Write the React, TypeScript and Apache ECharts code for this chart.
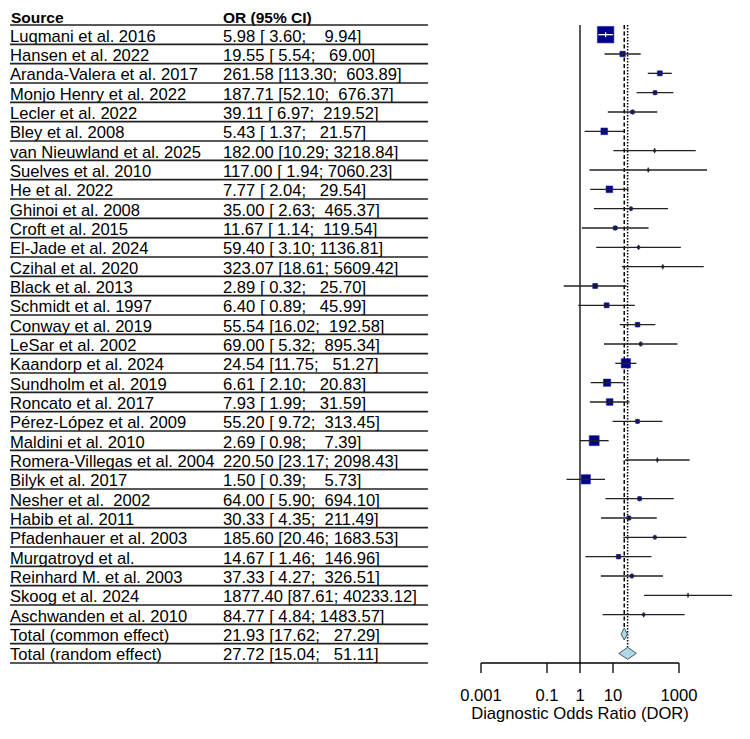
import React, { useEffect, useRef } from 'react';
import * as echarts from 'echarts';

const studies = [
  'Luqmani et al. 2016', 'Hansen et al. 2022', 'Aranda-Valera et al. 2017', 'Monjo Henry et al. 2022',
  'Lecler et al. 2022', 'Bley et al. 2008', 'van Nieuwland et al. 2025', 'Suelves et al. 2010',
  'He et al. 2022', 'Ghinoi et al. 2008', 'Croft et al. 2015', 'El-Jade et al. 2024',
  'Czihal et al. 2020', 'Black et al. 2013', 'Schmidt et al. 1997', 'Conway et al. 2019',
  'LeSar et al. 2002', 'Kaandorp et al. 2024', 'Sundholm et al. 2019', 'Roncato et al. 2017',
  'Pérez-López et al. 2009', 'Maldini et al. 2010', 'Romera-Villegas et al. 2004', 'Bilyk et al. 2017',
  'Nesher et al.  2002', 'Habib et al. 2011', 'Pfadenhauer et al. 2003', 'Murgatroyd et al.',
  'Reinhard M. et al. 2003', 'Skoog et al. 2024', 'Aschwanden et al. 2010',
];
const est = [
  5.98, 19.55, 261.58, 187.71, 39.11, 5.43, 182.0, 117.0, 7.77, 35.0, 11.67, 59.4, 323.07, 2.89, 6.4,
  55.54, 69.0, 24.54, 6.61, 7.93, 55.2, 2.69, 220.5, 1.5, 64.0, 30.33, 185.6, 14.67, 37.33, 1877.4, 84.77,
];
const lower = [
  3.6, 5.54, 113.3, 52.1, 6.97, 1.37, 10.29, 1.94, 2.04, 2.63, 1.14, 3.1, 18.61, 0.32, 0.89,
  16.02, 5.32, 11.75, 2.1, 1.99, 9.72, 0.98, 23.17, 0.39, 5.9, 4.35, 20.46, 1.46, 4.27, 87.61, 4.84,
];
const upper = [
  9.94, 69.0, 603.89, 676.37, 219.52, 21.57, 3218.84, 7060.23, 29.54, 465.37, 119.54, 1136.81, 5609.42, 25.7, 45.99,
  192.58, 895.34, 51.27, 20.83, 31.59, 313.45, 7.39, 2098.43, 5.73, 694.1, 211.49, 1683.53, 146.96, 326.51, 40233.12, 1483.57,
];
// approximate weights (%) read from the square areas
const weights = [
  26.1, 2.9, 2.4, 1.5, 1.3, 4.3, 0.4, 0.4, 4.3, 0.9, 1.5, 0.6, 0.4, 2.4, 2.4,
  2.1, 0.9, 8.3, 5.1, 4.3, 1.5, 9.6, 0.4, 8.3, 1.5, 1.5, 0.9, 1.9, 1.2, 0.1, 0.6,
];
const totalLabels = ['Total (common effect)', 'Total (random effect)'];
const totalEst = [21.93, 27.72];
const totalLower = [17.62, 15.04];
const totalUpper = [27.29, 51.11];
const tickValues = [0.001, 0.1, 1, 10, 1000];
const headers = ['Source', 'OR (95% CI)'];
const axisTitle = 'Diagnostic Odds Ratio (DOR)';

const FONT = '"Liberation Sans", Arial, sans-serif';
const FS = 16.6;

const keepSpaces = (s: string) => s.replace(/ (?= )/g, '\u00A0');
const f2 = (v: number) => v.toFixed(2);
const orText = (e: number, lo: number, hi: number) => {
  const l = f2(lo);
  const h = f2(hi);
  return keepSpaces(`${f2(e)} [${l.length <= 4 ? ' ' : ''}${l}; ${' '.repeat(Math.max(0, 7 - h.length))}${h}]`);
};

const rowNames = [...studies, ...totalLabels];
const rowOR = [
  ...studies.map((_, i) => orText(est[i], lower[i], upper[i])),
  ...totalLabels.map((_, i) => orText(totalEst[i], totalLower[i], totalUpper[i])),
];
const maxW = Math.max(...weights);

export default function App() {
  const ref = useRef<HTMLDivElement>(null);
  useEffect(() => {
    if (!ref.current) return;
    const chart = echarts.init(ref.current, null, { renderer: 'svg' });
    const nRows = rowNames.length;

    const option: any = {
      animation: false,
      backgroundColor: '#fff',
      grid: { left: 481, top: 25, width: 264, height: 638, containLabel: false, outerBoundsMode: 'none' },
      xAxis: { type: 'log', logBase: 10, min: 0.001, max: 100000, show: false },
      yAxis: { type: 'category', data: rowNames, inverse: true, show: false },
      graphic: [
        { type: 'text', x: 11, y: 17, style: { text: headers[0], fontSize: 15.5, fontWeight: 'bold', fontFamily: FONT, fill: '#000', textVerticalAlign: 'middle' } },
        { type: 'text', x: 223, y: 17, style: { text: headers[1], fontSize: 15.5, fontWeight: 'bold', fontFamily: FONT, fill: '#000', textVerticalAlign: 'middle' } },
        { type: 'line', shape: { x1: 10, y1: 25, x2: 428, y2: 25 }, style: { stroke: '#222', lineWidth: 1.6 } },
      ],
      series: [
        {
          // table
          type: 'custom',
          clip: false,
          silent: true,
          data: rowNames.map((_, i) => [1, i]),
          encode: { x: 0, y: 1 },
          renderItem: (params: any, api: any) => {
            const i = params.dataIndex;
            const cy = api.coord([1, i])[1];
            const band = api.size([0, 1])[1];
            const yb = cy + band / 2;
            return {
              type: 'group',
              children: [
                { type: 'text', x: 10, y: cy + 1.5, style: { text: keepSpaces(rowNames[i]), fontSize: FS, fontFamily: FONT, fill: '#000', textVerticalAlign: 'middle' } },
                { type: 'text', x: 223, y: cy + 1.5, style: { text: rowOR[i], fontSize: FS, fontFamily: FONT, fill: '#000', textVerticalAlign: 'middle' } },
                { type: 'line', shape: { x1: 10, y1: yb, x2: 428, y2: yb }, style: { stroke: '#222', lineWidth: 1.6 } },
              ],
            };
          },
          z: 1,
        },
        {
          // reference lines
          type: 'custom',
          clip: false,
          silent: true,
          data: [[1, 0, nRows - 1], [totalEst[0], 0, nRows - 2], [totalEst[1], 0, nRows - 1]],
          encode: { x: 0, y: 1 },
          renderItem: (params: any, api: any) => {
            const k = params.dataIndex;
            const cs = params.coordSys;
            const x = api.coord([api.value(0), 0])[0];
            const top = cs.y;
            let bottom = cs.y + cs.height;
            if (k > 0) bottom = api.coord([1, api.value(2)])[1] - 6;
            const dash = k === 0 ? null : k === 1 ? [4, 2.5] : [1.5, 1.5];
            return {
              type: 'line',
              shape: { x1: x, y1: top, x2: x, y2: bottom },
              style: { stroke: '#000', lineWidth: k === 0 ? 1.3 : 1.5, lineDash: dash },
            };
          },
          z: 2,
        },
        {
          // study squares + CIs
          type: 'custom',
          clip: false,
          silent: true,
          data: studies.map((_, i) => [est[i], i, lower[i], upper[i], weights[i]]),
          encode: { x: 0, y: 1 },
          renderItem: (params: any, api: any) => {
            const i = api.value(1);
            const c = api.coord([api.value(0), i]);
            const l = api.coord([api.value(2), i]);
            const h = api.coord([api.value(3), i]);
            const s = Math.max(1.5, 16.5 * Math.sqrt(api.value(4) / maxW));
            const inside = l[0] >= c[0] - s / 2 && h[0] <= c[0] + s / 2;
            const lc = inside ? '#fff' : '#222';
            return {
              type: 'group',
              children: [
                { type: 'rect', shape: { x: c[0] - s / 2, y: c[1] - s / 2, width: s, height: s }, style: { fill: '#00008B', stroke: '#1f2fa8', lineWidth: 0.6 } },
                { type: 'line', shape: { x1: l[0], y1: c[1], x2: h[0], y2: c[1] }, style: { stroke: lc, lineWidth: 1.3 } },
                { type: 'line', shape: { x1: c[0], y1: c[1] - 2.5, x2: c[0], y2: c[1] + 2.5 }, style: { stroke: lc, lineWidth: 1.2 } },
              ],
            };
          },
          z: 3,
        },
        {
          // pooled diamonds
          type: 'custom',
          clip: false,
          silent: true,
          data: totalEst.map((e, i) => [e, studies.length + i, totalLower[i], totalUpper[i]]),
          encode: { x: 0, y: 1 },
          renderItem: (params: any, api: any) => {
            const i = api.value(1);
            const c = api.coord([api.value(0), i]);
            const l = api.coord([api.value(2), i]);
            const h = api.coord([api.value(3), i]);
            const hh = 6;
            return {
              type: 'polygon',
              shape: { points: [[l[0], c[1]], [c[0], c[1] - hh], [h[0], c[1]], [c[0], c[1] + hh]] },
              style: { fill: '#ADD8E6', stroke: '#4a5a6a', lineWidth: 1 },
            };
          },
          z: 4,
        },
        {
          // x axis (drawn over its partial range)
          type: 'custom',
          clip: false,
          silent: true,
          data: tickValues.map((v) => [v, 0]),
          encode: { x: 0, y: 1 },
          renderItem: (params: any, api: any) => {
            const cs = params.coordSys;
            const yAxis = cs.y + cs.height;
            const x = api.coord([api.value(0), 0])[0];
            const children: any[] = [
              { type: 'line', shape: { x1: x, y1: yAxis, x2: x, y2: yAxis + 10 }, style: { stroke: '#000', lineWidth: 1.3 } },
              { type: 'text', x, y: yAxis + 32, style: { text: String(tickValues[params.dataIndex]), fontSize: FS, fontFamily: FONT, fill: '#000', textAlign: 'center', textVerticalAlign: 'middle' } },
            ];
            if (params.dataIndex === 0) {
              const x0 = api.coord([tickValues[0], 0])[0];
              const x1 = api.coord([tickValues[tickValues.length - 1], 0])[0];
              children.push({ type: 'line', shape: { x1: x0, y1: yAxis, x2: x1, y2: yAxis }, style: { stroke: '#000', lineWidth: 1.3 } });
              children.push({ type: 'text', x: (x0 + x1) / 2, y: yAxis + 50, style: { text: axisTitle, fontSize: FS, fontFamily: FONT, fill: '#000', textAlign: 'center', textVerticalAlign: 'middle' } });
            }
            return { type: 'group', children };
          },
          z: 5,
        },
      ],
    };
    chart.setOption(option);
    return () => chart.dispose();
  }, []);
  return <div ref={ref} style={{ position: 'absolute', left: 0, top: 0, width: 750, height: 739 }} />;
}
